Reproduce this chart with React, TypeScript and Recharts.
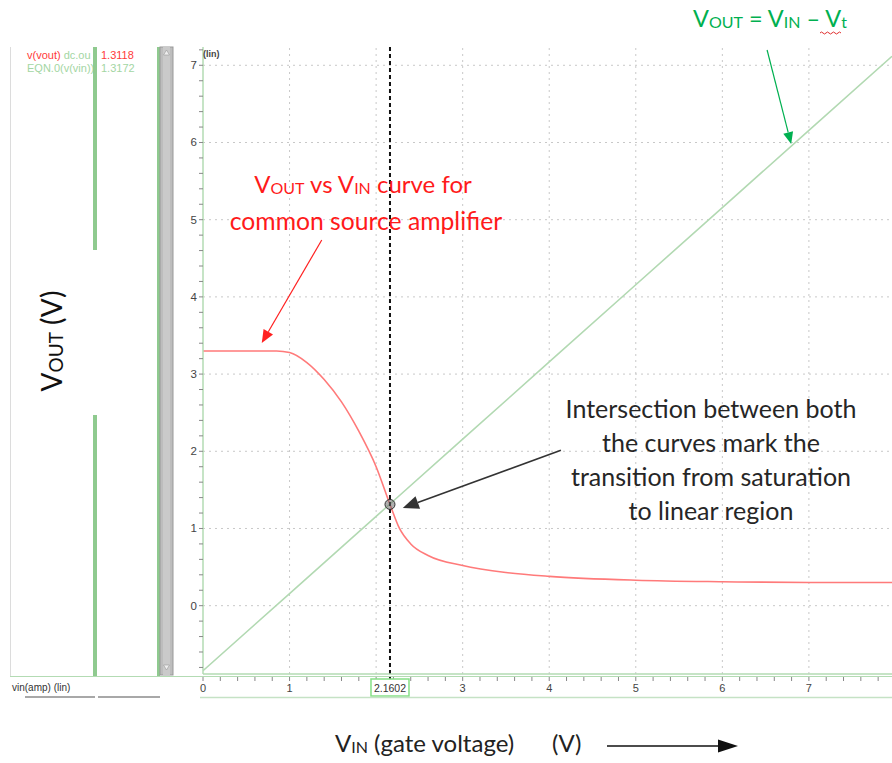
import React from 'react';
import { LineChart, Line, XAxis, YAxis, ReferenceLine, ReferenceDot } from 'recharts';

// DC sweep of the common source amplifier: v(vout) against the gate voltage vin
const vinSweep = [0, 0.5, 0.85, 1.0, 1.2, 1.4, 1.6, 1.8, 2.0, 2.1602, 2.27, 2.4, 2.6, 3.0, 3.5, 4.0, 5.0, 6.0, 7.0, 7.96];
const voutSweep = [3.3, 3.3, 3.3, 3.28, 3.15, 2.93, 2.64, 2.26, 1.8, 1.3118, 1.0, 0.8, 0.65, 0.52, 0.43, 0.38, 0.33, 0.31, 0.3, 0.3];

// Saturation boundary EQN.0 = v(vin) - Vt
const vinEqn = [0, 1, 2, 2.1602, 3, 4, 5, 6, 7, 7.96];
const voutEqn = [-0.843, 0.157, 1.157, 1.3172, 2.157, 3.157, 4.157, 5.157, 6.157, 7.117];

// Cursor readout
const cursorVin = 2.1602;
const cursorVout = 1.3118;
const cursorEqn = 1.3172;

// Axis ranges and labelled ticks
const xDomain = [0, 7.96];
const yDomain = [-0.885, 7.237];
const xLabelTicks = [0, 1, 3, 4, 5, 6, 7];
const yLabelTicks = [0, 1, 2, 3, 4, 5, 6, 7];
const gridX = [1, 2, 3, 4, 5, 6, 7];
const gridY = [0, 1, 2, 3, 4, 5, 6, 7];

// Annotation arrows, in (vin, vout) coordinates
const callouts = [
  { from: { x: 1.372, y: 4.737 }, to: { x: 0.679, y: 3.402 }, color: '#ff2020', width: 1.2, head: 13 },
  { from: { x: 6.517, y: 7.198 }, to: { x: 6.795, y: 5.98 }, color: '#00b050', width: 1.2, head: 12 },
  { from: { x: 4.135, y: 2.012 }, to: { x: 2.308, y: 1.265 }, color: '#333333', width: 1.6, head: 16 },
];

const sweepData = vinSweep.map((x, i) => ({ x, v: voutSweep[i] }));
const eqnData = vinEqn.map((x, i) => ({ x, v: voutEqn[i] }));

const minorStep = 0.2;
const xTicks = [
  ...Array.from({ length: Math.floor(xDomain[1] / minorStep) + 1 }, (_, i) => Math.round(i * minorStep * 10) / 10),
  cursorVin,
];
const yTicks = Array.from({ length: 41 }, (_, i) => Math.round((-0.8 + i * minorStep) * 10) / 10);

const cadenceFont = '"Liberation Sans", Arial, sans-serif';
const noteFont = 'Lato, "Open Sans", sans-serif';
const axisGreen = '#b3dbb3';

const isWhole = (v: number) => Math.abs(v - Math.round(v)) < 1e-6;

const XTick = (props: any) => {
  const { x, y, payload } = props;
  const v = payload.value;
  if (v === cursorVin) {
    return (
      <g>
        <rect x={x - 19} y={y + 5} width={38} height={17} fill="#fff" stroke="#86e086" strokeWidth={1.5} />
        <text x={x} y={y + 18} textAnchor="middle" fontSize={10.5} fill="#333" fontFamily={cadenceFont}>
          {cursorVin.toFixed(4)}
        </text>
      </g>
    );
  }
  const labelled = isWhole(v) && xLabelTicks.includes(Math.round(v));
  return (
    <g>
      <line x1={x} x2={x} y1={y + 3} y2={y + 7} stroke="#888" strokeWidth={1} />
      {labelled && (
        <text x={x} y={y + 18} textAnchor="middle" fontSize={11} fill="#444" fontFamily={cadenceFont}>
          {String(Math.round(v))}
        </text>
      )}
    </g>
  );
};

const YTick = (props: any) => {
  const { x, y, payload } = props;
  const v = payload.value;
  const labelled = isWhole(v) && yLabelTicks.includes(Math.round(v));
  return (
    <g>
      <line x1={x - 4} x2={x} y1={y} y2={y} stroke="#888" strokeWidth={1} />
      {labelled && (
        <text x={x - 6} y={y + 4} textAnchor="end" fontSize={11.5} fill="#444" fontFamily={cadenceFont}>
          {String(Math.round(v))}
        </text>
      )}
    </g>
  );
};

const arrowShape = (color: string, w: number, head: number) => (p: any) => {
  const { x1, y1, x2, y2 } = p;
  const ang = Math.atan2(y2 - y1, x2 - x1);
  const bx = x2 - head * Math.cos(ang);
  const by = y2 - head * Math.sin(ang);
  const hw = head * 0.42;
  const px = -Math.sin(ang) * hw;
  const py = Math.cos(ang) * hw;
  return (
    <g>
      <line x1={x1} y1={y1} x2={bx} y2={by} stroke={color} strokeWidth={w} />
      <polygon points={`${x2},${y2} ${bx + px},${by + py} ${bx - px},${by - py}`} fill={color} />
    </g>
  );
};

const Decorations = () => (
  <svg width={892} height={763} style={{ position: 'absolute', left: 0, top: 0, pointerEvents: 'none' }}>
    {/* waveform browser side panel */}
    <line x1={10.5} x2={10.5} y1={47} y2={676} stroke="#dcdcdc" strokeWidth={1} />
    <text x={27} y={59} fontSize={11} fontFamily={cadenceFont}>
      <tspan fill="#ff3a3a">v(vout)</tspan>
      <tspan fill="#a3d6a3"> dc.ou</tspan>
    </text>
    <text x={101} y={59} fontSize={11} fontFamily={cadenceFont} fill="#ff3a3a">
      {cursorVout.toFixed(4)}
    </text>
    <text x={27} y={72} fontSize={11} fontFamily={cadenceFont} fill="#a3d6a3">
      EQN.0(v(vin))
    </text>
    <text x={101} y={72} fontSize={11} fontFamily={cadenceFont} fill="#a3d6a3">
      {cursorEqn.toFixed(4)}
    </text>
    <rect x={93} y={47} width={4} height={203} fill="#8fca8f" />
    <rect x={93} y={415} width={4} height={261} fill="#8fca8f" />
    <rect x={157} y={47} width={3} height={629} fill="#8fca8f" />
    <rect x={160} y={47} width={13} height={628} fill="#bdbdbd" stroke="#999" strokeWidth={1} />
    <rect x={163} y={47} width={7} height={628} fill="#cacaca" />
    <polygon points="163.5,55 169.5,55 166.5,50" fill="#eee" stroke="#999" strokeWidth={0.6} />
    <polygon points="163.5,665 169.5,665 166.5,670" fill="#eee" stroke="#999" strokeWidth={0.6} />

    {/* x-axis strip */}
    <line x1={10} x2={892} y1={676.5} y2={676.5} stroke={axisGreen} strokeWidth={1} />
    <line x1={200} x2={892} y1={697.5} y2={697.5} stroke="#c5e2c5" strokeWidth={1.5} />
    <line x1={25} x2={95} y1={697} y2={697} stroke="#a8a8a8" strokeWidth={2} />
    <line x1={98} x2={160} y1={697} y2={697} stroke="#a8a8a8" strokeWidth={2} />
    <text x={12} y={691} fontSize={10} fontFamily={cadenceFont} fill="#333">vin(amp) (lin)</text>
    <text x={203} y={57} fontSize={9} fontWeight="bold" fontFamily={cadenceFont} fill="#444">(lin)</text>

    {/* axis titles */}
    <text transform="translate(62,341) rotate(-90)" textAnchor="middle" fontFamily={noteFont} fill="#111" fontSize={28}>
      V<tspan fontSize={19} dy={1}>OUT</tspan>
      <tspan dy={-1}> (V)</tspan>
    </text>
    <text x={335} y={752} fontFamily={noteFont} fill="#222" fontSize={24}>
      V<tspan fontSize={16} dy={1}>IN</tspan>
      <tspan dy={-1}> (gate voltage)</tspan>
    </text>
    <text x={552} y={752} fontFamily={noteFont} fill="#222" fontSize={24}>(V)</text>
    <line x1={607} x2={718} y1={746} y2={746} stroke="#111" strokeWidth={1.5} />
    <polygon points="738,746 718,739.5 718,752.5" fill="#111" />

    {/* annotations */}
    <text x={363} y={193} textAnchor="middle" fontFamily={noteFont} fill="#ff1a1a" fontSize={24}>
      V<tspan fontSize={16} dy={1}>OUT</tspan>
      <tspan dy={-1}> vs V</tspan>
      <tspan fontSize={16} dy={1}>IN</tspan>
      <tspan dy={-1}> curve for</tspan>
    </text>
    <text x={366} y={230} textAnchor="middle" fontFamily={noteFont} fill="#ff1a1a" fontSize={24.7}>
      common source amplifier
    </text>

    <text x={711} y={418} textAnchor="middle" fontFamily={noteFont} fill="#262626" fontSize={25}>Intersection between both</text>
    <text x={711} y={452} textAnchor="middle" fontFamily={noteFont} fill="#262626" fontSize={25}>the curves mark the</text>
    <text x={711} y={486} textAnchor="middle" fontFamily={noteFont} fill="#262626" fontSize={25}>transition from saturation</text>
    <text x={711} y={520} textAnchor="middle" fontFamily={noteFont} fill="#262626" fontSize={25}>to linear region</text>

    <text x={693} y={27} fontFamily={noteFont} fill="#00b050" fontSize={23.5}>
      V<tspan fontSize={16} dy={1}>OUT</tspan>
      <tspan dy={-1}> = V</tspan>
      <tspan fontSize={16} dy={1}>IN</tspan>
      <tspan dy={-1}> – V</tspan>
      <tspan fontSize={16} dy={1}>t</tspan>
    </text>
    <path d="M820,33 q1.5,-2 3,0 t3,0 t3,0 t3,0 t3,0 t3,0 t3,0" fill="none" stroke="#e03030" strokeWidth={1} />
  </svg>
);

export default function App() {
  return (
    <div style={{ position: 'absolute', left: 0, top: 0, width: 892, height: 763, background: '#fff' }}>
      <LineChart width={892} height={763} margin={{ top: 47, right: 0, bottom: 59, left: 0 }}>
        <XAxis
          dataKey="x"
          type="number"
          domain={xDomain}
          allowDataOverflow
          ticks={xTicks}
          interval={0}
          height={30}
          tickSize={0}
          tickMargin={0}
          tickLine={false}
          axisLine={{ stroke: axisGreen, strokeWidth: 1.5 }}
          tick={<XTick />}
        />
        <YAxis
          type="number"
          domain={yDomain}
          allowDataOverflow
          ticks={yTicks}
          interval={0}
          width={203}
          tickSize={0}
          tickMargin={0}
          tickLine={false}
          axisLine={{ stroke: axisGreen, strokeWidth: 1.5 }}
          tick={<YTick />}
        />
        {gridY.map((v) => (
          <ReferenceLine key={`gy${v}`} y={v} stroke="#c8c8c8" strokeDasharray="2 4" />
        ))}
        {gridX.map((v) => (
          <ReferenceLine key={`gx${v}`} x={v} stroke="#c8c8c8" strokeDasharray="2 4" />
        ))}
        <Line
          data={eqnData}
          dataKey="v"
          type="linear"
          stroke="#b2d9b2"
          strokeWidth={1.6}
          dot={false}
          activeDot={false}
          isAnimationActive={false}
        />
        <Line
          data={sweepData}
          dataKey="v"
          type="monotone"
          stroke="#ff7a7a"
          strokeWidth={1.6}
          dot={false}
          activeDot={false}
          isAnimationActive={false}
        />
        <ReferenceLine
          segment={[
            { x: cursorVin, y: yDomain[1] },
            { x: cursorVin, y: -1.0 },
          ]}
          ifOverflow="visible"
          stroke="#111"
          strokeWidth={2}
          strokeDasharray="4 3"
        />
        <ReferenceDot
          x={cursorVin}
          y={cursorVout}
          r={5}
          fill="rgba(110,110,110,0.55)"
          stroke="#333"
          strokeWidth={1}
          ifOverflow="visible"
        />
        {callouts.map((c, i) => (
          <ReferenceLine
            key={`c${i}`}
            segment={[c.from, c.to]}
            ifOverflow="visible"
            stroke={c.color}
            shape={arrowShape(c.color, c.width, c.head)}
          />
        ))}
      </LineChart>
      <Decorations />
    </div>
  );
}
